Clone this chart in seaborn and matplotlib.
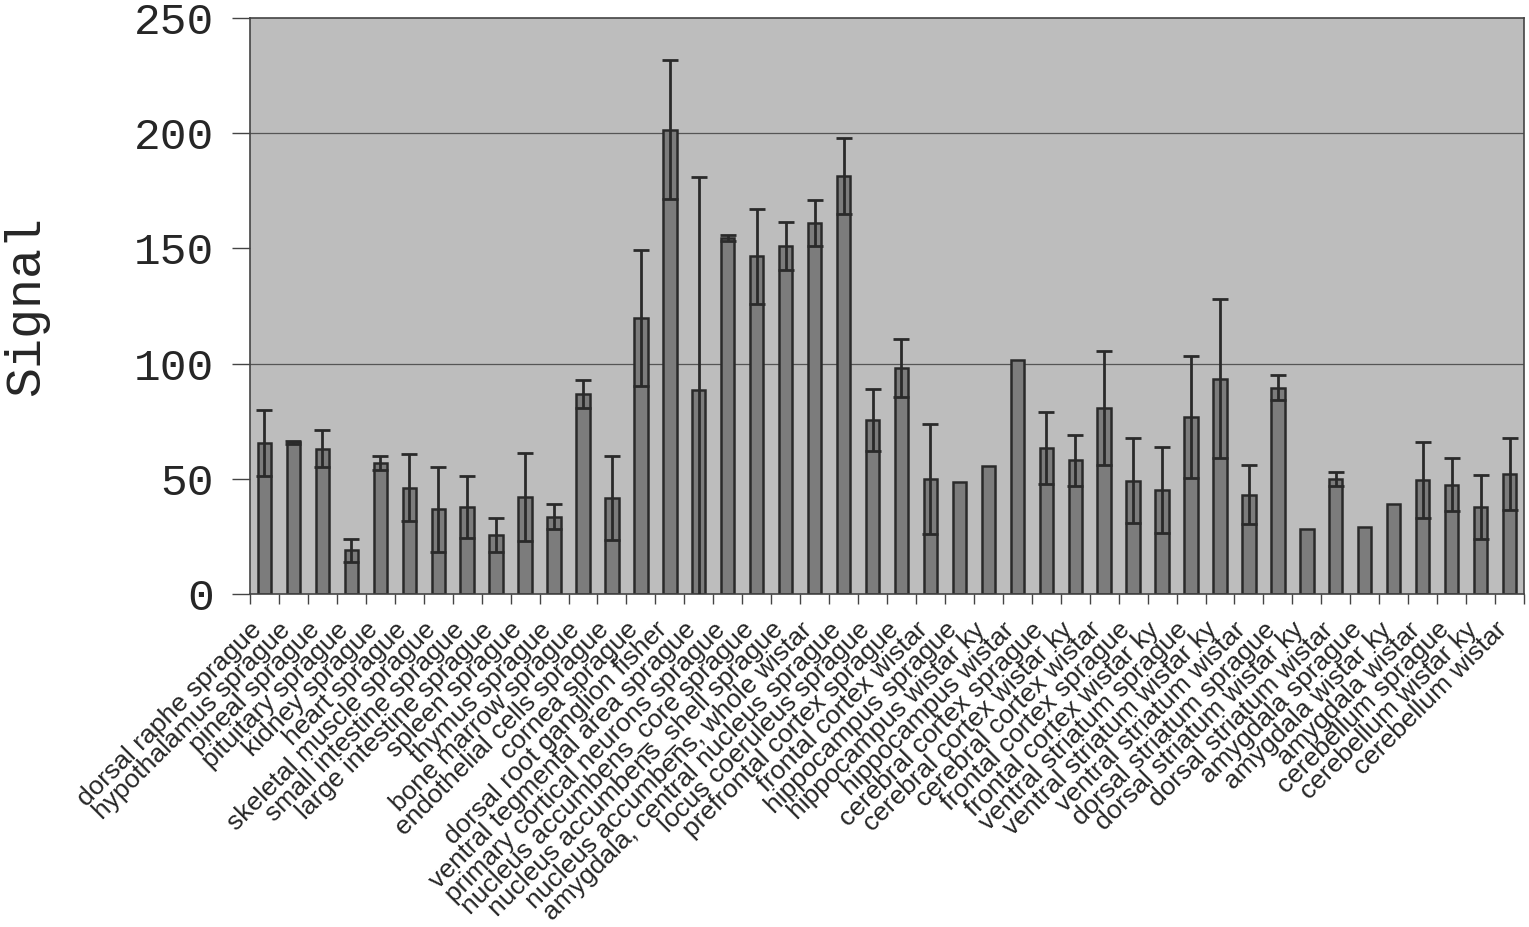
#!/usr/bin/env python3
# coding=utf-8
import numpy as np
import pandas as pd
import matplotlib
matplotlib.use('Agg')
import matplotlib.pyplot as plt
import matplotlib.transforms as mtrans
import seaborn as sns

tissues = ['dorsal raphe sprague', 'hypothalamus sprague', 'pineal sprague',
           'pituitary sprague', 'kidney sprague', 'heart sprague',
           'skeletal muscle sprague', 'small intestine sprague',
           'large intestine sprague', 'spleen sprague', 'thymus sprague',
           'bone marrow sprague', 'endothelial cells sprague', 'cornea sprague',
           'dorsal root ganglion fisher', 'ventral tegmental area sprague',
           'primary cortical neurons sprague', 'nucleus accumbens_core sprague',
           'nucleus accumbens_shell sprague', 'nucleus accumbens, whole wistar',
           'amygdala, central nucleus sprague', 'locus coeruleus sprague',
           'prefrontal cortex sprague', 'frontal cortex wistar',
           'hippocampus sprague', 'hippocampus wistar ky', 'hippocampus wistar',
           'cerebral cortex sprague', 'cerebral cortex wistar ky',
           'cerebral cortex wistar', 'frontal cortex sprague',
           'frontal cortex wistar ky', 'ventral striatum sprague',
           'ventral striatum wistar ky', 'ventral striatum wistar',
           'dorsal striatum sprague', 'dorsal striatum wistar ky',
           'dorsal striatum wistar', 'amygdala sprague', 'amygdala wistar ky',
           'amygdala wistar', 'cerebellum sprague', 'cerebellum wistar ky',
           'cerebellum wistar']

signal = [65.5, 65.8, 63.0, 19.0, 56.7, 46.2, 36.8, 37.7, 25.6, 42.0, 33.5,
          86.8, 41.8, 119.8, 201.6, 88.5, 154.5, 146.5, 151.0, 161.0, 181.5,
          75.5, 98.0, 50.0, 48.6, 55.6, 101.4, 63.5, 58.0, 80.6, 49.2, 45.0,
          77.0, 93.5, 43.1, 89.5, 28.0, 49.8, 29.2, 39.0, 49.6, 47.5, 37.8, 52.1]

error = [14.5, 0.8, 8.0, 5.0, 3.0, 14.5, 18.5, 13.5, 7.5, 19.0, 5.5,
         6.2, 18.2, 29.5, 30.0, 92.5, 1.2, 20.5, 10.3, 10.0, 16.5,
         13.3, 12.7, 24.0, 0.0, 0.0, 0.0, 15.6, 11.0, 24.7, 18.5, 18.7,
         26.5, 34.5, 12.7, 5.5, 0.0, 3.0, 0.0, 0.0, 16.5, 11.6, 13.8, 15.5]

df = pd.DataFrame({'tissue': tissues, 'signal': signal, 'err': error})

sns.set_style('white')
plt.rcParams['font.family'] = ['Liberation Sans', 'DejaVu Sans']

fig = plt.figure(figsize=(15.29, 9.27), dpi=100)
ax = fig.add_axes([250 / 1529, 1 - 594 / 927, 1274 / 1529, 576 / 927])
ax.set_facecolor('#bdbdbd')

sns.barplot(data=df, x='tissue', y='signal', color='#7c7c7c', width=0.46,
            saturation=1, edgecolor='#2a2a2a', linewidth=1.8, ax=ax, zorder=2)

# excel style error bars, only where there is one
xs = np.arange(len(df))
has = df['err'].values > 0
ax.errorbar(xs[has], df['signal'].values[has], yerr=df['err'].values[has],
            fmt='none', ecolor='#2a2a2a', elinewidth=2, capsize=5.5,
            capthick=2, zorder=3)

for yv in (100, 200):
    ax.axhline(yv, color='#555555', lw=0.9, zorder=1)

ax.set_ylim(0, 250)
ax.set_xlim(-0.5, len(df) - 0.5)
ax.set_yticks([0, 50, 100, 150, 200, 250])
ax.set_yticklabels(['0', '50', '100', '150', '200', '250'],
                   family='Liberation Mono', fontsize=32)
ax.tick_params(axis='y', left=True, length=13, width=1, color='#444444', pad=13)

ax.set_xticks(xs)
ax.set_xticklabels(tissues, rotation=45, ha='right', rotation_mode='anchor',
                   fontsize=19)
ax.tick_params(axis='x', which='major', bottom=False, length=0, pad=17)
ax.set_xticks(np.arange(len(df) + 1) - 0.5, minor=True)
ax.tick_params(axis='x', which='minor', bottom=True, length=7, width=1,
               color='#444444')
shift = mtrans.ScaledTranslation(-15 / 100, 0, fig.dpi_scale_trans)
for lab in ax.get_xticklabels():
    lab.set_transform(lab.get_transform() + shift)

ax.set_xlabel('')
ax.set_ylabel('Signal', family='Liberation Mono', fontsize=36)
ax.yaxis.set_label_coords(-0.158, 0.5)

for sp in ax.spines.values():
    sp.set_color('#444444')
    sp.set_linewidth(1.2)

fig.savefig('out.png', dpi=100)
